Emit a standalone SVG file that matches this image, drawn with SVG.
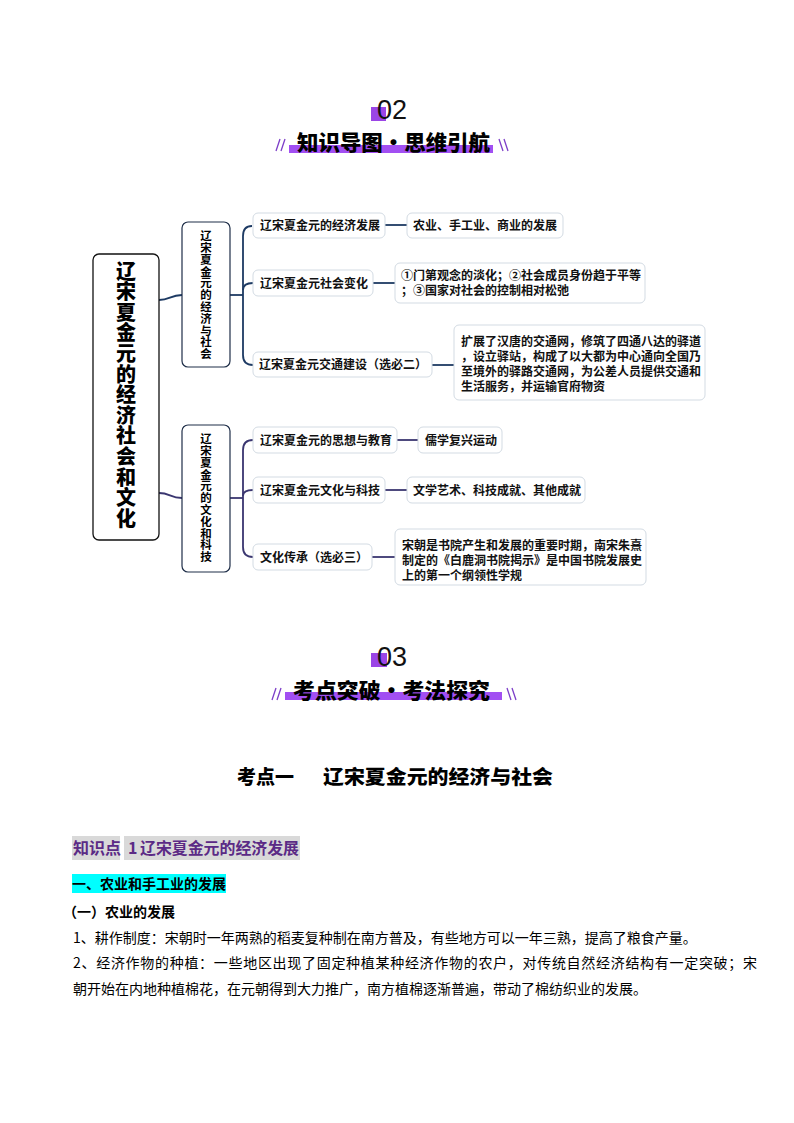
<svg xmlns="http://www.w3.org/2000/svg" width="794" height="1123" viewBox="0 0 794 1123">
<style>
.bg{fill:#ffffff}
.sq{fill:#9b45e6}
.bar{fill:#a24ff2}
.num{font-family:"Liberation Sans","Noto Sans",sans-serif;font-size:27px;fill:#111}
.htitle{font-family:"Noto Sans CJK SC",sans-serif;font-size:21px;font-weight:900;fill:#000}
.slash{stroke:#7d3fc8;stroke-width:1.3;fill:none}
.main{fill:#fff;stroke:#111;stroke-width:1.3}
.sub{fill:#fff;stroke:#1e2e48;stroke-width:1.2}
.node{fill:#fff;stroke:#d3dbe3;stroke-width:1}
.vt{writing-mode:vertical-rl;text-orientation:upright;font-family:"Noto Sans CJK SC",sans-serif;fill:#000}
.mt{font-size:20px;font-weight:900;letter-spacing:0.6px}
.st{font-size:11.5px;font-weight:700;letter-spacing:0.3px}
.nt{font-family:"Noto Sans CJK SC",sans-serif;font-size:12px;font-weight:700;fill:#111}
.c1{stroke:#1d3a63;stroke-width:1.8;fill:none}
.c2{stroke:#3a3670;stroke-width:1.8;fill:none}
.t1{font-family:"Noto Sans CJK SC",sans-serif;font-size:19px;font-weight:900;fill:#000}
.kp{font-family:"Noto Sans CJK SC",sans-serif;font-size:16px;font-weight:700;fill:#5b2a86}
.b14{font-family:"Noto Sans CJK SC",sans-serif;font-size:14px;font-weight:700;fill:#000}
.body{font-family:"Noto Sans CJK SC",sans-serif;font-size:14px;fill:#000}
</style>
<rect class="bg" x="0" y="0" width="794" height="1123"/>

<!-- Header 02 -->
<g id="header02">
  <rect class="sq" x="371" y="107" width="15" height="14"/>
  <text class="num" x="377" y="119">02</text>
  <rect class="bar" x="289" y="145" width="204" height="8"/>
  <text class="htitle" x="297" y="150" textLength="193" lengthAdjust="spacingAndGlyphs">知识导图•思维引航</text>
  <path class="slash" d="M276 151 L280 139 M281 151 L285 139"/>
  <path class="slash" d="M499 139 L503 151 M504 139 L508 151"/>
</g>

<!-- Mind map -->
<g id="connectors">
  <path class="c1" d="M159 300 C170 300 170 295 182 295"/>
  <path class="c2" d="M159 493 C170 493 170 498 182 498"/>
  <path class="c1" d="M230 295 H243"/>
  <path class="c1" d="M252 226 Q243 226 243 236 V355 Q243 365 253 365"/>
  <path class="c1" d="M243 290 Q243 283 253 283"/>
  <path class="c2" d="M230 498 H243"/>
  <path class="c2" d="M253 440 Q243 440 243 450 V547 Q243 557 253 557"/>
  <path class="c2" d="M243 496 Q243 490 253 490"/>
  <path class="c1" d="M385 225 H407"/>
  <path class="c1" d="M373 283 H395"/>
  <path class="c1" d="M432 365 H454"/>
  <path class="c2" d="M397 440 H418"/>
  <path class="c2" d="M385 490 H407"/>
  <path class="c2" d="M372 557 H395"/>
</g>

<g id="root">
  <rect class="main" x="93" y="254" width="66" height="286" rx="6"/>
  <text class="vt mt" x="126" y="261">辽宋夏金元的经济社会和文化</text>
</g>

<g id="sub1">
  <rect class="sub" x="182" y="222" width="48" height="145" rx="6"/>
  <text class="vt st" x="206" y="230">辽宋夏金元的经济与社会</text>
</g>

<g id="sub2">
  <rect class="sub" x="182" y="425" width="48" height="147" rx="6"/>
  <text class="vt st" x="206" y="433">辽宋夏金元的文化和科技</text>
</g>

<g id="n1">
  <rect class="node" x="253" y="213" width="132" height="25" rx="5"/>
  <text class="nt" x="260" y="230">辽宋夏金元的经济发展</text>
</g>
<g id="l1">
  <rect class="node" x="407" y="213" width="156" height="25" rx="5"/>
  <text class="nt" x="413" y="230">农业、手工业、商业的发展</text>
</g>
<g id="n2">
  <rect class="node" x="253" y="270" width="120" height="26" rx="5"/>
  <text class="nt" x="260" y="287.5">辽宋夏金元社会变化</text>
</g>
<g id="l2">
  <rect class="node" x="395" y="263" width="250" height="40" rx="5"/>
  <text class="nt" x="401" y="280">①门第观念的淡化；②社会成员身份趋于平等</text>
  <text class="nt" x="401" y="295">；③国家对社会的控制相对松弛</text>
</g>
<g id="n3">
  <rect class="node" x="253" y="352" width="179" height="25" rx="5"/>
  <text class="nt" x="259" y="369">辽宋夏金元交通建设（选必二）</text>
</g>
<g id="l3">
  <rect class="node" x="454" y="325" width="251" height="75" rx="5"/>
  <text class="nt" x="461" y="346">扩展了汉唐的交通网，修筑了四通八达的驿道</text>
  <text class="nt" x="461" y="361">，设立驿站，构成了以大都为中心通向全国乃</text>
  <text class="nt" x="461" y="376">至境外的驿路交通网，为公差人员提供交通和</text>
  <text class="nt" x="461" y="391">生活服务，并运输官府物资</text>
</g>
<g id="n4">
  <rect class="node" x="253" y="427" width="144" height="26" rx="5"/>
  <text class="nt" x="260" y="444.5">辽宋夏金元的思想与教育</text>
</g>
<g id="l4">
  <rect class="node" x="418" y="427" width="84" height="26" rx="5"/>
  <text class="nt" x="425" y="444.5">儒学复兴运动</text>
</g>
<g id="n5">
  <rect class="node" x="253" y="477" width="132" height="26" rx="5"/>
  <text class="nt" x="260" y="494.5">辽宋夏金元文化与科技</text>
</g>
<g id="l5">
  <rect class="node" x="407" y="477" width="178" height="26" rx="5"/>
  <text class="nt" x="413" y="494.5">文学艺术、科技成就、其他成就</text>
</g>
<g id="n6">
  <rect class="node" x="253" y="544" width="119" height="26" rx="5"/>
  <text class="nt" x="260" y="561.5">文化传承（选必三）</text>
</g>
<g id="l6">
  <rect class="node" x="395" y="529" width="251" height="56" rx="5"/>
  <text class="nt" x="402" y="550">宋朝是书院产生和发展的重要时期，南宋朱熹</text>
  <text class="nt" x="402" y="565">制定的《白鹿洞书院揭示》是中国书院发展史</text>
  <text class="nt" x="402" y="580">上的第一个纲领性学规</text>
</g>

<!-- Header 03 -->
<g id="header03">
  <rect class="sq" x="371" y="653" width="16" height="14"/>
  <text class="num" x="377" y="666">03</text>
  <rect class="bar" x="285" y="692" width="217" height="8"/>
  <text class="htitle" x="293" y="698" textLength="197" lengthAdjust="spacingAndGlyphs">考点突破•考法探究</text>
  <path class="slash" d="M272 700 L276 688 M277 700 L281 688"/>
  <path class="slash" d="M507 688 L511 700 M512 688 L516 700"/>
</g>

<g id="body">
  <text class="t1" x="237" y="784">考点一</text>
  <text class="t1" x="323" y="784" textLength="230" lengthAdjust="spacingAndGlyphs">辽宋夏金元的经济与社会</text>

  <rect x="72" y="836" width="48" height="24" fill="#d9d9d9"/>
  <rect x="124" y="836" width="176" height="24" fill="#d9d9d9"/>
  <text class="kp" x="73" y="854">知识点</text>
  <text class="kp" x="128" y="854">1</text>
  <text class="kp" x="140" y="854" textLength="159" lengthAdjust="spacingAndGlyphs">辽宋夏金元的经济发展</text>

  <rect x="72" y="874" width="154" height="19" fill="#00ffff"/>
  <text class="b14" x="72" y="889" textLength="154" lengthAdjust="spacingAndGlyphs">一、农业和手工业的发展</text>

  <text class="b14" x="63" y="917">（一）农业的发展</text>
  <text class="body" x="73" y="943">1、耕作制度：宋朝时一年两熟的稻麦复种制在南方普及，有些地方可以一年三熟，提高了粮食产量。</text>
  <text class="body" x="73" y="968" textLength="684" lengthAdjust="spacing">2、经济作物的种植：一些地区出现了固定种植某种经济作物的农户，对传统自然经济结构有一定突破；宋</text>
  <text class="body" x="73" y="994">朝开始在内地种植棉花，在元朝得到大力推广，南方植棉逐渐普遍，带动了棉纺织业的发展。</text>
</g>
</svg>
